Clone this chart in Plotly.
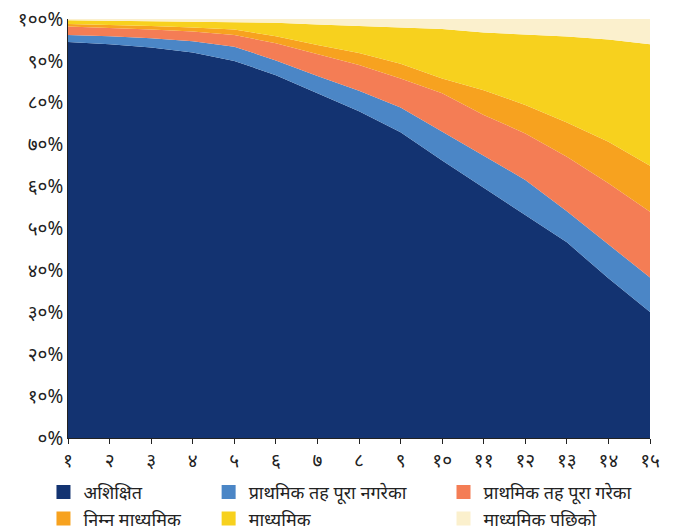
import plotly.graph_objects as go

x_vals = list(range(1, 16))
x_labels = ["१", "२", "३", "४", "५", "६", "७", "८", "९", "१०", "११", "१२", "१३", "१४", "१५"]
y_tickvals = [0, 10, 20, 30, 40, 50, 60, 70, 80, 90, 100]
y_ticklabels = ["०%", "१०%", "२०%", "३०%", "४०%", "५०%", "६०%", "७०%", "८०%", "९०%", "१००%"]

series_names = ["अशिक्षित", "प्राथमिक तह पूरा नगरेका", "प्राथमिक तह पूरा गरेका",
                "निम्न माध्यमिक", "माध्यमिक", "माध्यमिक पछिको"]

s_illiterate = [94.5, 94.0, 93.2, 92.0, 90.0, 86.6, 82.3, 78.0, 73.0, 66.2, 59.7, 53.1, 46.7, 38.1, 30.1]
s_primary_incomplete = [1.7, 1.9, 2.2, 2.7, 3.4, 3.5, 4.1, 4.9, 5.9, 6.9, 7.8, 8.5, 7.4, 8.0, 8.2]
s_primary_complete = [2.0, 2.0, 2.1, 2.3, 2.8, 4.1, 5.2, 6.1, 6.9, 9.2, 9.6, 11.1, 13.0, 14.7, 15.7]
s_lower_secondary = [0.6, 0.7, 0.8, 1.0, 1.3, 1.7, 2.2, 2.9, 3.5, 3.5, 5.9, 6.8, 8.2, 9.9, 11.0]
s_secondary = [0.9, 1.0, 1.2, 1.4, 1.8, 3.2, 4.9, 6.4, 8.7, 11.8, 13.8, 16.8, 20.5, 24.4, 29.0]
s_post_secondary = [0.3, 0.4, 0.5, 0.6, 0.7, 0.9, 1.3, 1.7, 2.0, 2.4, 3.2, 3.7, 4.2, 4.9, 6.0]

colors = ["#133371", "#4b86c6", "#f47d55", "#f7a21f", "#f7d11e", "#fbf0cd"]
all_series = [s_illiterate, s_primary_incomplete, s_primary_complete,
              s_lower_secondary, s_secondary, s_post_secondary]

fig = go.Figure()
for name, vals, col in zip(series_names, all_series, colors):
    fig.add_trace(go.Scatter(
        x=x_vals, y=vals, name=name, stackgroup="one", mode="lines",
        line=dict(width=0, color=col), fillcolor=col, showlegend=False,
        hoverinfo="x+y+name",
    ))

legend_ids = ["legend", "legend2", "legend3", "legend", "legend2", "legend3"]
for name, col, lg in zip(series_names, colors, legend_ids):
    fig.add_trace(go.Scatter(
        x=[None], y=[None], name=name, mode="markers",
        marker=dict(symbol="square", size=14, color=col),
        showlegend=True, legend=lg,
    ))

font_family = "Noto Sans, Noto Sans Devanagari, Lohit Devanagari, sans-serif"
legend_common = dict(orientation="v", yanchor="top", y=0.1075, yref="container",
                     xanchor="left", xref="container",
                     font=dict(size=18, color="#222", family=font_family),
                     bgcolor="rgba(0,0,0,0)", tracegroupgap=0, itemwidth=30,
                     traceorder="normal")

fig.update_layout(
    width=673, height=531,
    margin=dict(l=68, r=23, t=19, b=93, autoexpand=False),
    plot_bgcolor="white", paper_bgcolor="white",
    font=dict(family=font_family, color="#222"),
    xaxis=dict(range=[1, 15], tickmode="array", tickvals=x_vals, ticktext=x_labels,
               showgrid=False, zeroline=False, showline=True, linecolor="#222",
               linewidth=1, ticks="outside", ticklen=5, tickcolor="#222",
               tickfont=dict(size=19, color="#222")),
    yaxis=dict(range=[0, 100], tickmode="array", tickvals=y_tickvals, ticktext=y_ticklabels,
               showgrid=False, zeroline=False, showline=True, linecolor="#222",
               linewidth=1, ticks="", ticklen=6, tickfont=dict(size=19, color="#222")),
    legend=dict(x=0.0646, **legend_common),
    legend2=dict(x=0.310, **legend_common),
    legend3=dict(x=0.659, **legend_common),
)

fig.write_html("out.html", config={"displayModeBar": False},
               post_script="document.body.style.margin='0';")
